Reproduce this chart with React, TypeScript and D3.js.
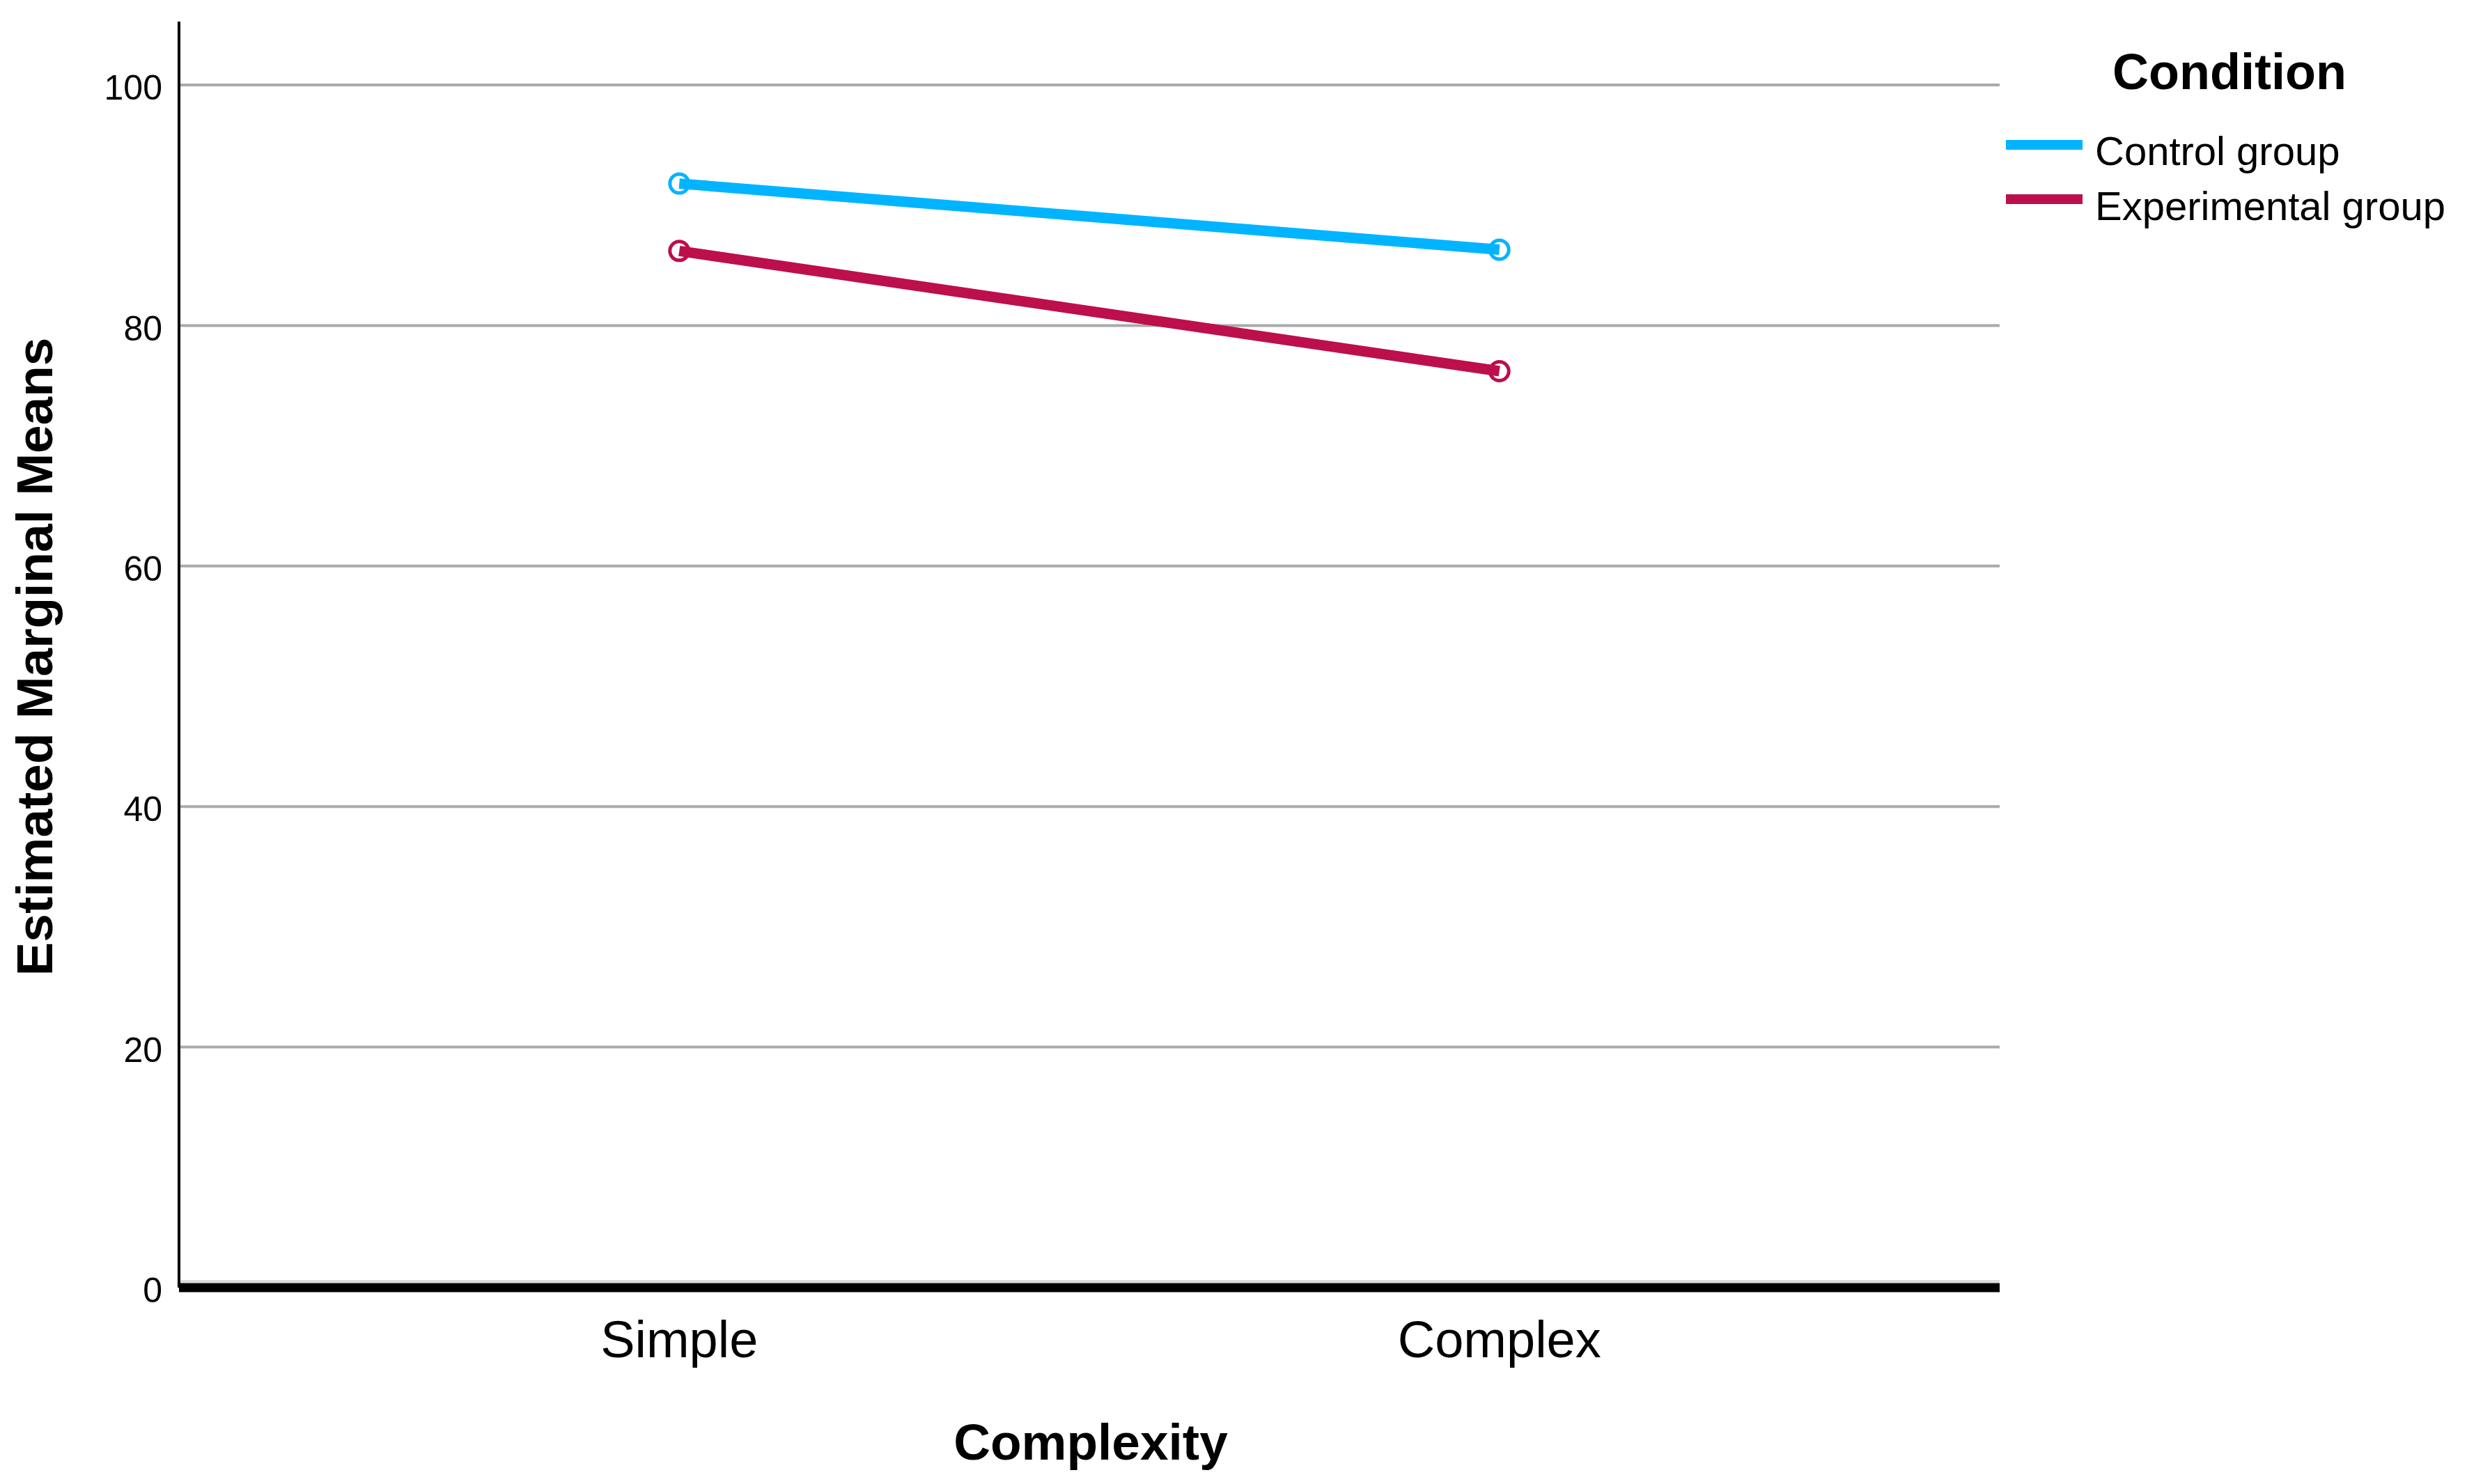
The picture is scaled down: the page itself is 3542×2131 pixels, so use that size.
import React from "react";
import * as d3 from "d3";

const categories = ["Simple", "Complex"];
const seriesNames = ["Control group", "Experimental group"];
const controlValues = [91.8, 86.3];
const experimentalValues = [86.2, 76.2];
const yTicks = [0, 20, 40, 60, 80, 100];
const colors = ["#00B4FF", "#BC0F4C"];

const W = 3542;
const H = 2131;
const FONT = "'Liberation Sans', Arial, Helvetica, sans-serif";

export default function App() {
  const left = 257;
  const right = 2871;
  const top = 31;
  const x = d3.scalePoint<string>().domain(categories).range([left, right]).padding(0.61);
  const y = d3.scaleLinear().domain([0, 100]).range([1849, 122]);
  const series = [controlValues, experimentalValues];
  const line = d3
    .line<number>()
    .x((_, i) => x(categories[i]) as number)
    .y((d) => y(d));

  return (
    <svg
      width={W}
      height={H}
      viewBox={`0 0 ${W} ${H}`}
      style={{ position: "absolute", left: 0, top: 0, display: "block", background: "#fff" }}
    >
      <rect x={0} y={0} width={W} height={H} fill="#fff" />
      {/* gridlines */}
      {yTicks.map((t) => (
        <line key={"g" + t} x1={left} x2={right} y1={t === 0 ? y(t) - 9 : y(t)} y2={t === 0 ? y(t) - 9 : y(t)} stroke={t === 0 ? "#dddddd" : "#aaaaaa"} strokeWidth={4} />
      ))}
      {/* y axis */}
      <line x1={left} x2={left} y1={top} y2={y(0)} stroke="#000" strokeWidth={4} />
      {/* x axis */}
      <line x1={left} x2={right} y1={y(0)} y2={y(0)} stroke="#000" strokeWidth={13} />
      {/* y tick labels */}
      {yTicks.map((t) => (
        <text key={"t" + t} x={233} y={y(t) + 8} textAnchor="end" dominantBaseline="middle" fontFamily={FONT} fontSize={50} fill="#000">
          {t}
        </text>
      ))}
      {/* x tick labels */}
      {categories.map((c) => (
        <text key={c} x={x(c)} y={1949} textAnchor="middle" fontFamily={FONT} fontSize={74} fill="#000">
          {c}
        </text>
      ))}
      {/* axis titles */}
      <text x={1566} y={2096} textAnchor="middle" fontFamily={FONT} fontSize={73} fontWeight="bold" fill="#000">
        Complexity
      </text>
      <text transform="translate(75,943) rotate(-90)" textAnchor="middle" fontFamily={FONT} fontSize={73} fontWeight="bold" fill="#000">
        Estimated Marginal Means
      </text>
      {/* series */}
      {series.map((vals, si) => (
        <g key={"s" + si}>
          {vals.map((v, i) => (
            <circle key={i} cx={x(categories[i])} cy={y(v)} r={13.5} fill="none" stroke={colors[si]} strokeWidth={5} />
          ))}
          <path d={line(vals) || ""} fill="none" stroke={colors[si]} strokeWidth={15} />
        </g>
      ))}
      {/* legend */}
      <text x={3201} y={128} textAnchor="middle" fontFamily={FONT} fontSize={72} fontWeight="bold" fill="#000">
        Condition
      </text>
      {seriesNames.map((n, i) => (
        <g key={n}>
          <line x1={2880} x2={2990} y1={208 + i * 78} y2={208 + i * 78} stroke={colors[i]} strokeWidth={14} />
          <text x={3008} y={237 + i * 79} fontFamily={FONT} fontSize={58} fill="#000">
            {n}
          </text>
        </g>
      ))}
    </svg>
  );
}
